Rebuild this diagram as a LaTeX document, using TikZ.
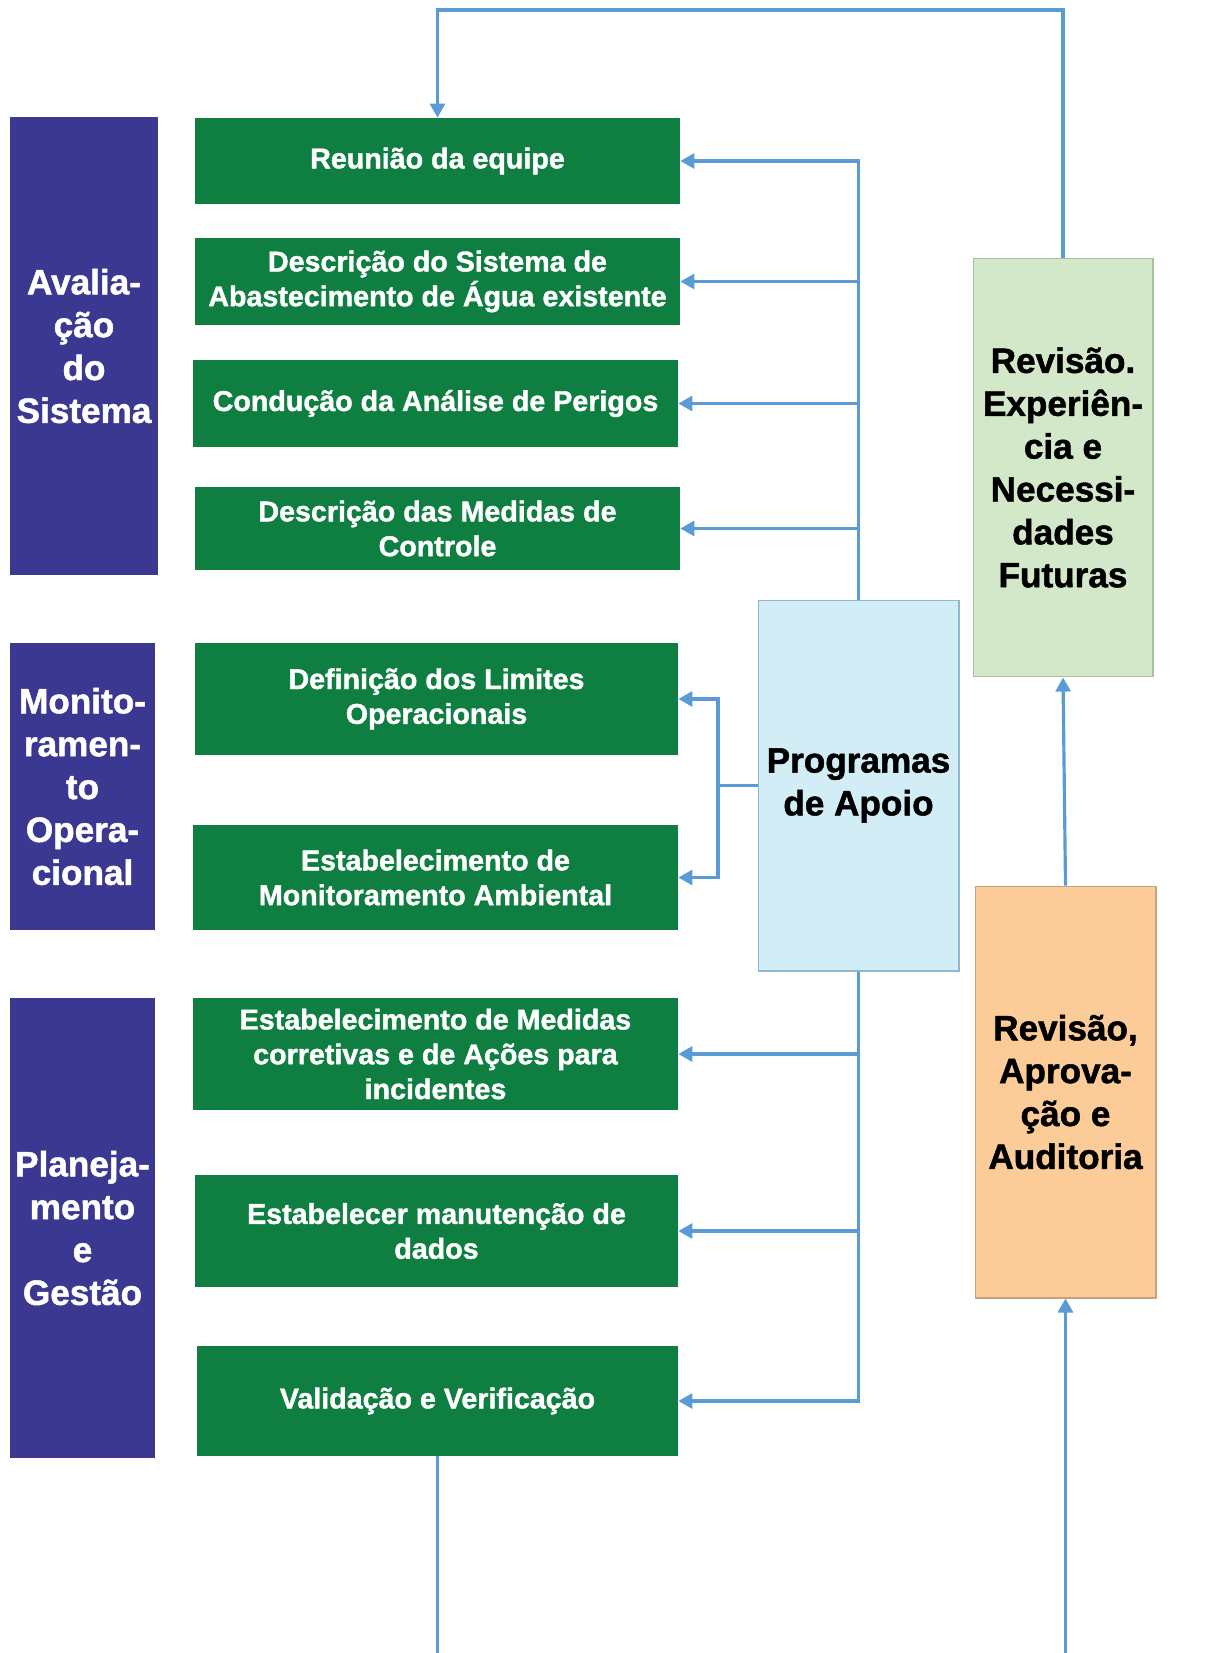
\documentclass[tikz,border=0pt]{standalone}
\usepackage{fontspec}
\setmainfont{Liberation Sans}[BoldFeatures={FakeBold=1.4}]
\usepackage{tikz}
\usetikzlibrary{arrows.meta}
\definecolor{mygroupcolor}{HTML}{3B3891}
\definecolor{mystepcolor}{HTML}{0E7E41}
\definecolor{mysupportcolor}{HTML}{D2EDF6}
\definecolor{mysupportline}{HTML}{8FB6D3}
\definecolor{myreviewcolor}{HTML}{D3E8C9}
\definecolor{myreviewline}{HTML}{A8BFA0}
\definecolor{myauditcolor}{HTML}{FBCB98}
\definecolor{myauditline}{HTML}{C8A27E}
\definecolor{myarrowcolor}{HTML}{5B9BD5}
\tikzset{
  groupbox/.style={fill=mygroupcolor, text=white, rectangle, align=center, inner sep=0pt,
    font=\fontsize{20pt}{24.4pt}\selectfont\bfseries},
  stepbox/.style={fill=mystepcolor, text=white, rectangle, align=center, inner sep=0pt,
    font=\fontsize{16.3pt}{19.8pt}\selectfont\bfseries},
  sidebox/.style={rectangle, align=center, inner sep=0pt, line width=0.6pt,
    font=\fontsize{20pt}{24.4pt}\selectfont\bfseries},
  link/.style={draw=myarrowcolor, line width=1.8pt},
  flow/.style={link, -{Triangle[length=8pt,width=8.5pt]}}
}

\begin{document}
\begin{tikzpicture}[x=0.02cm, y=-0.02cm]%
\useasboundingbox (0,0) rectangle (1220,1653);%
% left column
\node[groupbox, minimum width=2.96cm, minimum height=9.16cm] (aval) at (84, 346) {Avalia-\\ção\\do\\Sistema};%
\node[groupbox, minimum width=2.90cm, minimum height=5.74cm] (monit) at (82.5, 786.5) {Monito-\\ramen-\\to\\Opera-\\cional};%
\node[groupbox, minimum width=2.90cm, minimum height=9.20cm] (plan) at (82.5, 1228) {Planeja-\\mento\\e\\Gestão};%
% steps
\node[stepbox, minimum width=9.70cm, minimum height=1.72cm] (g1) at (437.5, 161) {Reunião da equipe};%
\node[stepbox, minimum width=9.70cm, minimum height=1.74cm] (g2) at (437.5, 281.5) {Descrição do Sistema de\\Abastecimento de Água existente};%
\node[stepbox, minimum width=9.70cm, minimum height=1.74cm] (g3) at (435.5, 403.5) {Condução da Análise de Perigos};%
\node[stepbox, minimum width=9.70cm, minimum height=1.66cm] (g4) at (437.5, 528.5) {Descrição das Medidas de\\Controle};%
\node[stepbox, minimum width=9.66cm, minimum height=2.24cm] (g5) at (436.5, 699) {Definição dos Limites\\Operacionais};%
\node[stepbox, minimum width=9.70cm, minimum height=2.10cm] (g6) at (435.5, 877.5) {Estabelecimento de\\Monitoramento Ambiental};%
\node[stepbox, minimum width=9.70cm, minimum height=2.24cm] (g7) at (435.5, 1054) {Estabelecimento de Medidas\\corretivas e de Ações para\\incidentes};%
\node[stepbox, minimum width=9.66cm, minimum height=2.24cm] (g8) at (436.5, 1231) {Estabelecer manutenção de\\dados};%
\node[stepbox, minimum width=9.62cm, minimum height=2.20cm] (g9) at (437.5, 1401) {Validação e Verificação};%
% right column
\node[sidebox, draw=mysupportline, fill=mysupportcolor, minimum width=4.02cm, minimum height=7.42cm] (apoio) at (858.5, 785.5) {Programas\\de Apoio};%
\node[sidebox, draw=myreviewline, fill=myreviewcolor, minimum width=3.60cm, minimum height=8.38cm] (rev) at (1063, 467.5) {Revisão.\\Experiên-\\cia e\\Necessi-\\dades\\Futuras};%
\node[sidebox, draw=myauditline, fill=myauditcolor, minimum width=3.62cm, minimum height=8.24cm] (aud) at (1065.5, 1092) {Revisão,\\Aprova-\\ção e\\Auditoria};%
% connectors
\coordinate (split) at (718, 785.5);%
\coordinate (topR) at (1063, 10);%
\coordinate (topL) at (437.5, 10);%
\coordinate (outL) at (437.5, 1653);%
\coordinate (outR) at (1065.5, 1653);%
\foreach \s in {g1, g2, g3, g4} {\draw[flow] (apoio.north) |- (\s.east);}%
\foreach \s in {g7, g8, g9} {\draw[flow] (apoio.south) |- (\s.east);}%
\draw[link] (apoio.west) -- (split);%
\foreach \s in {g5, g6} {\draw[flow] (split) |- (\s.east);}%
\draw[flow] (rev.north) -- (topR) -- (topL) -- (g1.north);%
\draw[flow] (aud.north) -- (rev.south);%
\draw[link] (g9.south) -- (outL);%
\draw[flow] (outR) -- (aud.south);%
\end{tikzpicture}
\end{document}
